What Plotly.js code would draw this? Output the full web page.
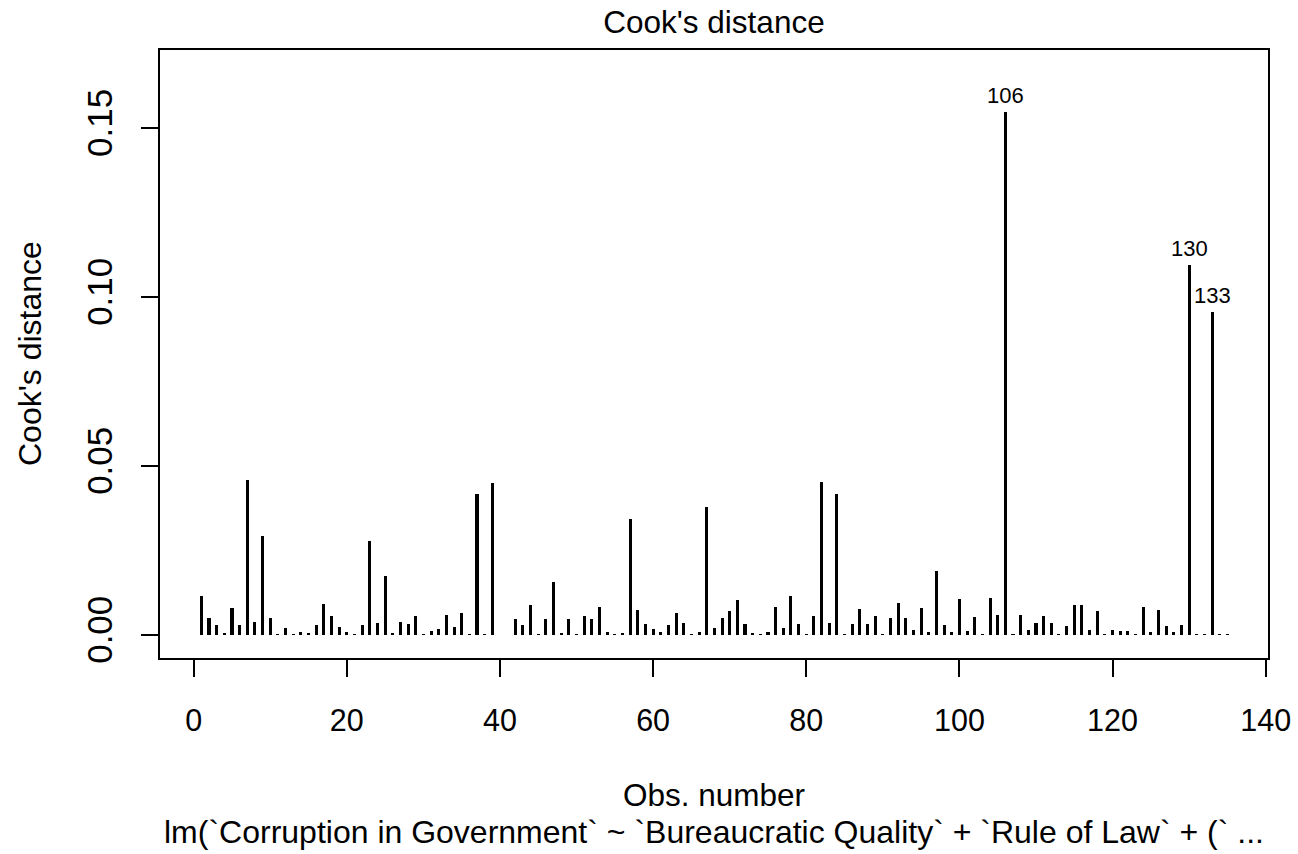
<!DOCTYPE html>
<html>
<head>
<meta charset="utf-8">
<script src="https://cdn.plot.ly/plotly-3.0.1.min.js"></script>
<style>
  html, body { margin: 0; padding: 0; background: #ffffff; }
  #chart { width: 1298px; height: 854px; }
</style>
</head>
<body>
<div id="chart"></div>
<script>
// Cook's distance per observation of the fitted linear model
const cooksDistance = [
  0.0115, 0.0049, 0.0029, 0.0005, 0.0079, 0.0029, 0.0458, 0.0040, 0.0292, 0.0049,
  0.0003, 0.0020, 0.0002, 0.0008, 0.0005, 0.0029, 0.0091, 0.0055, 0.0023, 0.0008,
  0.0002, 0.0029, 0.0278, 0.0037, 0.0176, 0.0005, 0.0040, 0.0032, 0.0055, 0.0002,
  0.0011, 0.0017, 0.0058, 0.0023, 0.0064, 0.0002, 0.0417, 0.0002, 0.0450, 0.0001,
  0.0001, 0.0046, 0.0029, 0.0088, 0.0002, 0.0046, 0.0156, 0.0005, 0.0046, 0.0002,
  0.0055, 0.0046, 0.0082, 0.0008, 0.0002, 0.0005, 0.0342, 0.0073, 0.0032, 0.0017,
  0.0008, 0.0029, 0.0064, 0.0035, 0.0002, 0.0008, 0.0378, 0.0020, 0.0049, 0.0070,
  0.0103, 0.0032, 0.0005, 0.0002, 0.0008, 0.0082, 0.0020, 0.0114, 0.0032, 0.0002,
  0.0055, 0.0452, 0.0035, 0.0417, 0.0002, 0.0032, 0.0076, 0.0032, 0.0055, 0.0002,
  0.0049, 0.0094, 0.0049, 0.0014, 0.0079, 0.0008, 0.0188, 0.0029, 0.0008, 0.0106,
  0.0011, 0.0052, 0.0002, 0.0111, 0.0058, 0.1548, 0.0002, 0.0058, 0.0014, 0.0037,
  0.0055, 0.0035, 0.0002, 0.0026, 0.0088, 0.0088, 0.0014, 0.0070, 0.0002, 0.0014,
  0.0011, 0.0011, 0.0002, 0.0082, 0.0008, 0.0073, 0.0026, 0.0008, 0.0029, 0.1096,
  0.0002, 0.0003, 0.0957, 0.0002, 0.0002
];

// Observation numbers 1..n
const obsNumber = cooksDistance.map((_, i) => i + 1);

// Observations flagged with their number above the spike
const flaggedObs = [106, 130, 133];

// Axis ticks
const xTicks = [0, 20, 40, 60, 80, 100, 120, 140];
const yTicks = [0, 0.05, 0.10, 0.15];
const yTickLabels = ['0.00', '0.05', '0.10', '0.15'];

// Texts
const mainTitle = "Cook's distance";
const xTitle = 'Obs. number';
const yTitle = "Cook's distance";
const modelCaption = 'lm(`Corruption in Government` ~ `Bureaucratic Quality` + `Rule of Law` + (` ...';

const FONT = 'Liberation Sans, Arial, sans-serif';
const TEXT_SIZE = 31.5;

const spikes = {
  type: 'bar',
  x: obsNumber,
  y: cooksDistance,
  width: 0.4,
  marker: { color: '#000000', line: { width: 0 } },
  hoverinfo: 'x+y'
};

const flagLabels = flaggedObs.map(id => ({
  x: id,
  y: cooksDistance[id - 1],
  xref: 'x', yref: 'y',
  text: String(id),
  showarrow: false,
  xanchor: 'center',
  yanchor: 'bottom',
  yshift: 2,
  font: { family: FONT, size: 22, color: '#000000' }
}));

const layout = {
  width: 1298,
  height: 854,
  margin: { l: 160, r: 30, t: 50, b: 196, pad: 0 },
  paper_bgcolor: '#ffffff',
  plot_bgcolor: '#ffffff',
  showlegend: false,
  bargap: 0,
  font: { family: FONT, size: TEXT_SIZE, color: '#000000' },
  title: {
    text: mainTitle,
    x: 0.5,
    xanchor: 'center',
    xref: 'paper',
    y: 1 - 22 / 854,
    yanchor: 'middle',
    font: { family: FONT, size: TEXT_SIZE, color: '#000000' }
  },
  xaxis: {
    range: [-4.4, 140.3],
    tickvals: xTicks,
    ticktext: xTicks.map(String),
    ticks: 'outside',
    ticklen: 17,
    tickwidth: 2,
    tickcolor: '#000000',
    showline: true,
    mirror: true,
    linewidth: 2,
    linecolor: '#000000',
    showgrid: false,
    zeroline: false,
    tickfont: { family: FONT, size: 30.5, color: '#000000' },
    ticklabelstandoff: 17
  },
  yaxis: {
    range: [-0.0068, 0.1731],
    tickvals: yTicks,
    ticktext: yTickLabels,
    tickangle: -90,
    ticks: 'outside',
    ticklen: 17,
    tickwidth: 2,
    tickcolor: '#000000',
    showline: true,
    mirror: true,
    linewidth: 2,
    linecolor: '#000000',
    showgrid: false,
    zeroline: false,
    tickfont: { family: FONT, size: 35, color: '#000000' },
    ticklabelstandoff: 15
  },
  annotations: flagLabels.concat([
    {
      text: xTitle, xref: 'paper', yref: 'paper',
      x: 0.5, y: (658 - 795) / 608, xanchor: 'center', yanchor: 'middle',
      showarrow: false, font: { family: FONT, size: TEXT_SIZE, color: '#000000' }
    },
    {
      text: modelCaption, xref: 'paper', yref: 'paper',
      x: 0.5, y: (658 - 832) / 608, xanchor: 'center', yanchor: 'middle',
      showarrow: false, font: { family: FONT, size: 32, color: '#000000' }
    },
    {
      text: yTitle, xref: 'paper', yref: 'paper',
      x: (30 - 160) / 1108, y: 0.5, xanchor: 'center', yanchor: 'middle',
      textangle: -90,
      showarrow: false, font: { family: FONT, size: 32, color: '#000000' }
    }
  ])
};

Plotly.newPlot('chart', [spikes], layout, { displayModeBar: false, staticPlot: true });
</script>
</body>
</html>
